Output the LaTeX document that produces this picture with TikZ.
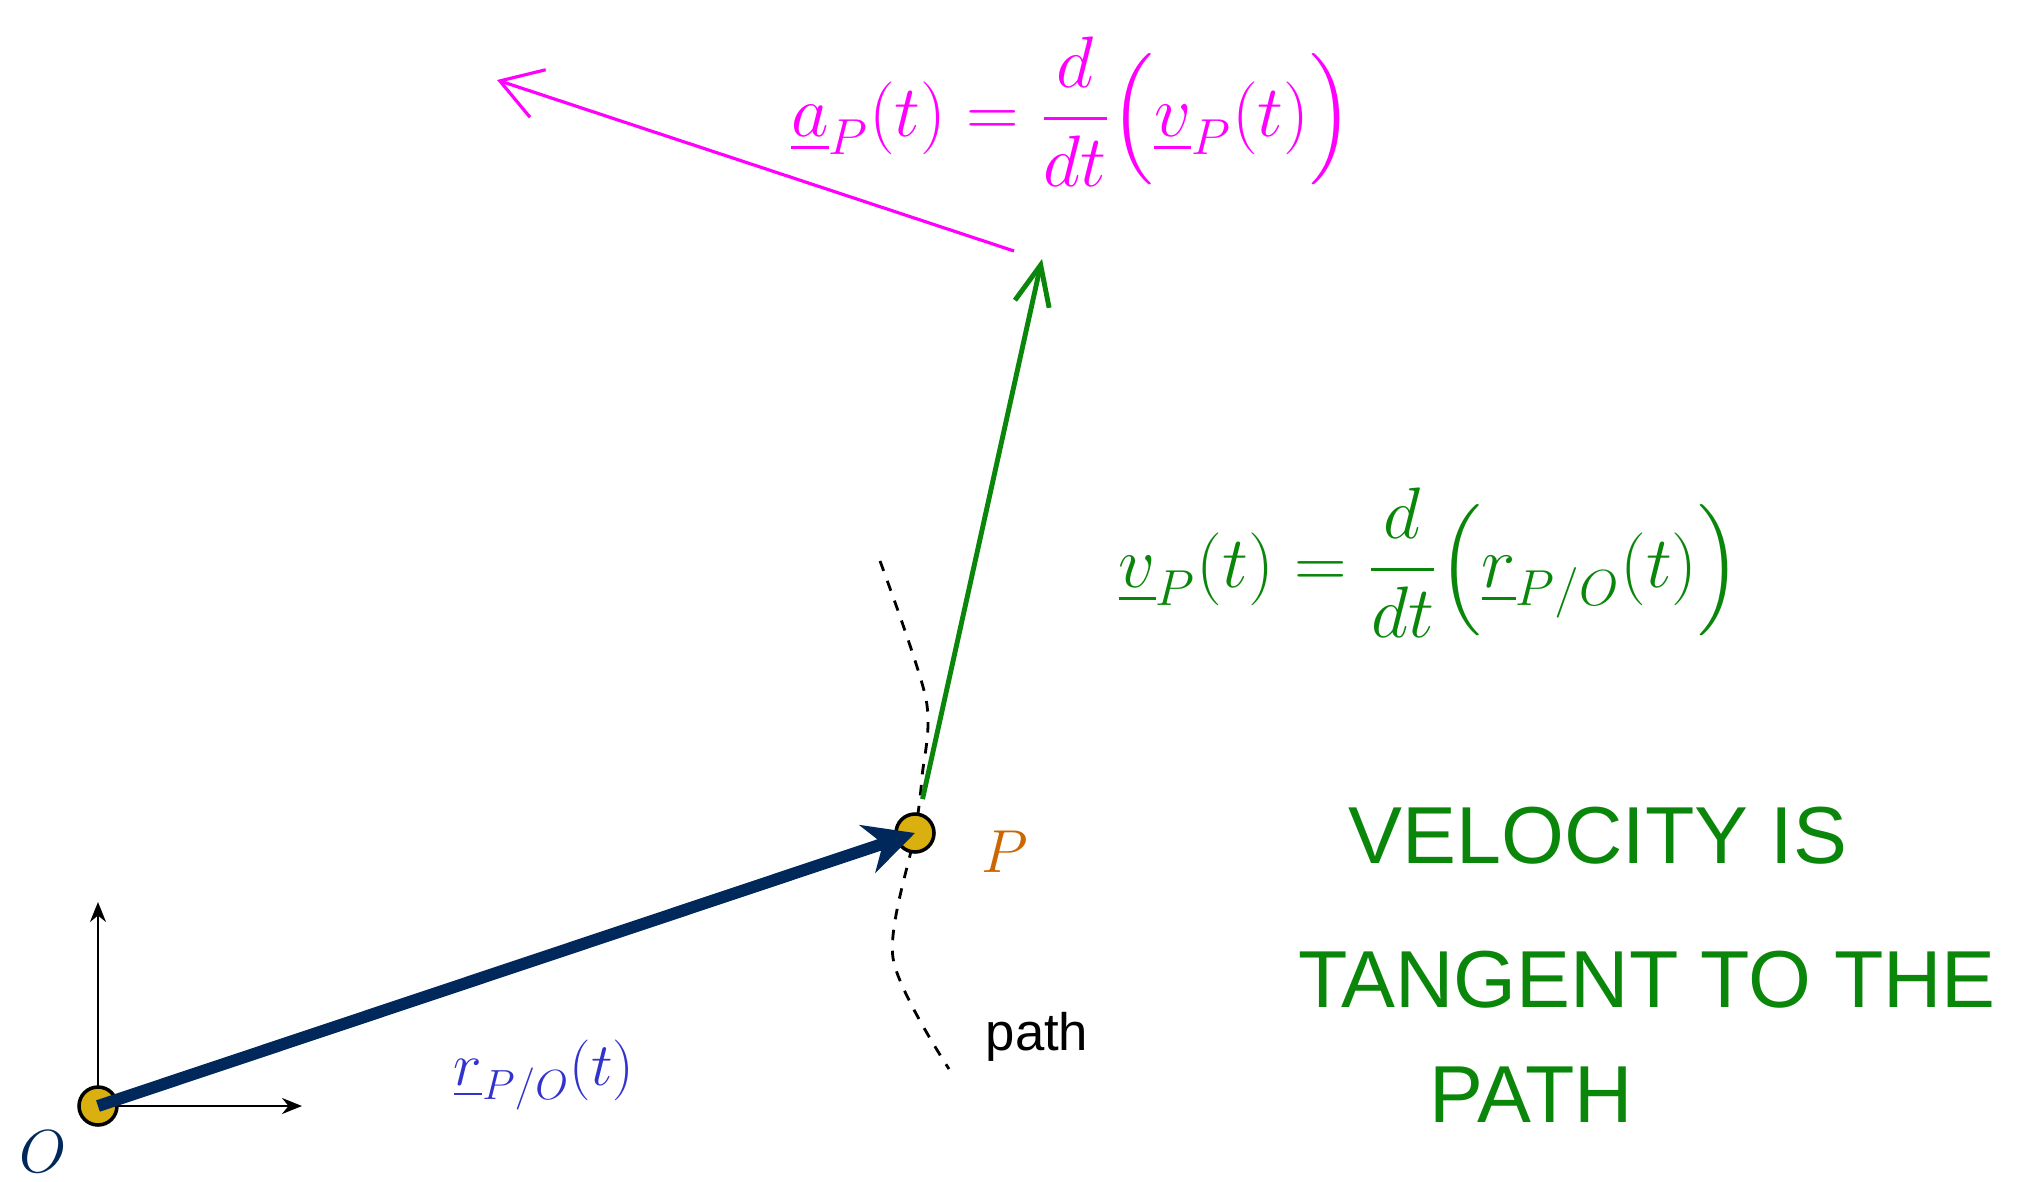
\documentclass[tikz,border=0pt]{standalone}
\usepackage{fontspec}
\usepackage{amsmath}
\usetikzlibrary{arrows.meta}
\setsansfont{Liberation Sans}
\definecolor{pointgold}{RGB}{218,175,16}
\definecolor{posnavy}{RGB}{0,40,90}
\definecolor{velgreen}{RGB}{10,135,10}
\definecolor{accmagenta}{RGB}{255,0,255}
\definecolor{labelblue}{RGB}{50,50,205}
\definecolor{pointorange}{RGB}{204,102,0}

\begin{document}
\begin{tikzpicture}[every node/.style={font=\LARGE},
    point/.style={circle, draw, line width=1pt, fill=pointgold, minimum size=0.38cm, inner sep=0pt},
    note/.style={velgreen, font=\sffamily\fontsize{23}{28}\selectfont}]
  \useasboundingbox (0,0) rectangle (20.30,-11.81);
  % Frame at O
  \coordinate (Oc) at (0.98,-11.06);
  \coordinate (xend) at (3.02,-11.06);
  \coordinate (yend) at (0.98,-9.02);
  \draw[-{Stealth[length=2mm, width=1.6mm]}, semithick] (Oc) -- (xend);
  \draw[-{Stealth[length=2mm, width=1.6mm]}, semithick] (Oc) -- (yend);
  % Path of P
  \draw[dashed, thick] plot[smooth] coordinates {
    (8.80,-5.61) (9.26,-6.99) (9.22,-7.77) (9.15,-8.33) (8.93,-9.58) (9.49,-10.69)
  };
  % Points
  \node[point] (O) at (Oc) {};
  \node[point] (P) at (9.15,-8.33) {};
  \node[posnavy, inner sep=1pt] (Olab) at (0.43,-11.52) {$O$};
  \node[pointorange] (Plab) at (10.05,-8.52) {$P$};
  \node[font=\sffamily\fontsize{15}{18}\selectfont] (pathlab) at (10.37,-10.37) {path};
  % Position vector
  \draw[posnavy, line width=3.4pt, -{Stealth[length=5mm, width=5mm]}] (O.center) -- (P.center);
  \node[labelblue] (rlab) at (5.44,-10.75) {$\underline{r}_{P/O}(t)$};
  % Velocity
  \coordinate (vtip) at (10.42,-2.59);
  \draw[velgreen, line width=1.4pt, shorten <=1.4mm, -{Straight Barb[length=4mm, width=3.5mm]}] (P) -- (vtip);
  \node[velgreen, font=\huge] (veleq) at (14.30,-5.63)
    {$\underline{v}_P(t) = \dfrac{d}{dt}\Big(\underline{r}_{P/O}(t)\Big)$};
  % Acceleration
  \coordinate (astart) at (10.14,-2.51);
  \coordinate (atip) at (4.97,-0.80);
  \draw[accmagenta, line width=0.9pt, -{Straight Barb[length=4mm, width=5mm]}] (astart) -- (atip);
  \node[accmagenta, font=\huge, inner sep=1pt] (acceq) at (10.72,-1.12)
    {$\underline{a}_P(t) = \dfrac{d}{dt}\Big(\underline{v}_P(t)\Big)$};
  % Note
  \node[note] (note1) at (15.98,-8.36) {VELOCITY IS};
  \node[note] (note2) at (16.47,-9.80) {TANGENT TO THE};
  \node[note] (note3) at (15.31,-10.95) {PATH};
\end{tikzpicture}
\end{document}
